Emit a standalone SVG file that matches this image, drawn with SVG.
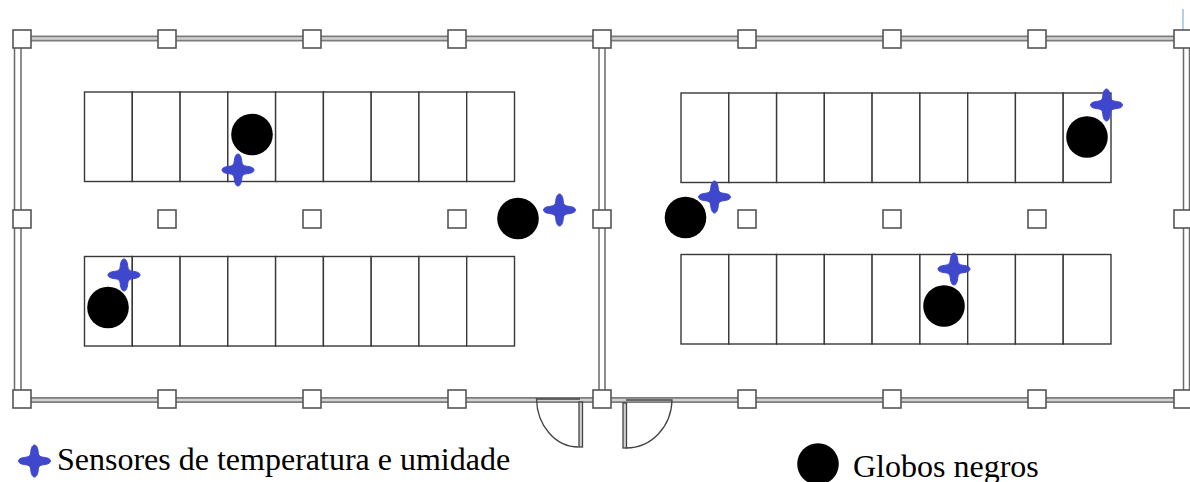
<svg xmlns="http://www.w3.org/2000/svg" width="1190" height="482" viewBox="0 0 1190 482">
<style>
.wo{fill:none;stroke:#7c7c7c;stroke-width:6}
.wi{fill:none;stroke:#d2d2d2;stroke-width:2.4}
.col{fill:#fff;stroke:#555;stroke-width:1.6}
.rack{fill:#fff;stroke:#383838;stroke-width:1.4}
.door{fill:none;stroke:#444;stroke-width:1.3}
.leaf{fill:#d0d0d0;stroke:#444;stroke-width:1.3}
.sensor{fill:#3f48cc;stroke:#3f48cc;stroke-width:1;stroke-linejoin:round}
.globe{fill:#000}
.label{font-family:"Liberation Serif","Times New Roman",serif;fill:#000;font-size:32px}
.vw{fill:#fff;stroke:#6a6a6a;stroke-width:1.5}
</style>
<defs>
<rect id="c" class="col" x="-9" y="-9" width="18" height="18"/>
<rect id="cell" class="rack" x="0" y="0" width="47.8" height="89.5"/>
<path id="s" class="sensor" d="M0,-16C2.500,-16 3.500,-12 3.800,-8.500C4,-5.500 5.500,-4 8.500,-3.800C12,-3.500 16,-2.500 16,0C16,2.500 12,3.500 8.500,3.800C5.500,4 4,5.500 3.800,8.500C3.500,12 2.500,16 0,16C-2.500,16 -3.500,12 -3.800,8.500C-4,5.500 -5.500,4 -8.500,3.800C-12,3.500 -16,2.500 -16,0C-16,-2.500 -12,-3.500 -8.500,-3.800C-5.500,-4 -4,-5.500 -3.800,-8.500C-3.500,-12 -2.500,-16 0,-16Z"/>
<g id="rackrow">
<use href="#cell" x="0"/><use href="#cell" x="47.8"/><use href="#cell" x="95.6"/><use href="#cell" x="143.3"/><use href="#cell" x="191.1"/><use href="#cell" x="238.9"/><use href="#cell" x="286.7"/><use href="#cell" x="334.4"/><use href="#cell" x="382.2"/>
</g>
</defs>
<rect width="1190" height="482" fill="#fff"/>
<g id="connectors">
<path class="wo" d="M22,38.500H1183M22,400H1183"/>
<path class="wi" d="M22,38.500H1183M22,400H1183"/>
<rect class="vw" x="14.500" y="39" width="6.500" height="360"/>
<rect class="vw" x="599" y="39" width="6" height="360"/>
<rect class="vw" x="1183.500" y="39" width="6" height="360"/>
<path d="M1183,9V39" fill="none" stroke="#6aa5d5" stroke-width="1"/>
</g>
<g id="columns">
<use href="#c" x="22" y="39"/><use href="#c" x="167" y="39"/><use href="#c" x="312" y="39"/><use href="#c" x="457" y="39"/><use href="#c" x="602" y="39"/><use href="#c" x="747" y="39"/><use href="#c" x="892" y="39"/><use href="#c" x="1037" y="39"/><use href="#c" x="1183" y="39"/>
<use href="#c" x="22" y="219"/><use href="#c" x="167" y="219"/><use href="#c" x="312" y="219"/><use href="#c" x="457" y="219"/><use href="#c" x="602" y="219"/><use href="#c" x="747" y="219"/><use href="#c" x="892" y="219"/><use href="#c" x="1037" y="219"/><use href="#c" x="1183" y="219"/>
<use href="#c" x="22" y="399"/><use href="#c" x="167" y="399"/><use href="#c" x="312" y="399"/><use href="#c" x="457" y="399"/><use href="#c" x="602" y="399"/><use href="#c" x="747" y="399"/><use href="#c" x="892" y="399"/><use href="#c" x="1037" y="399"/><use href="#c" x="1183" y="399"/>
</g>
<g id="racks">
<use id="rack-top-left" href="#rackrow" x="84.500" y="92"/>
<use id="rack-bottom-left" href="#rackrow" x="84.500" y="256.500"/>
<use id="rack-top-right" href="#rackrow" x="681" y="93"/>
<use id="rack-bottom-right" href="#rackrow" x="681" y="254.500"/>
</g>
<g id="door-left">
<path class="door" d="M580,399H536.500C537,425 555,447 578.500,447"/>
<rect class="leaf" x="579" y="402" width="3.500" height="45"/>
</g>
<g id="door-right">
<path class="door" d="M626,400H672C671.500,426 652,448 626,448"/>
<rect class="leaf" x="623" y="403" width="3.500" height="45"/>
</g>
<g id="globes">
<circle class="globe" cx="252" cy="134.500" r="20.800"/>
<circle class="globe" cx="108" cy="307.500" r="20.800"/>
<circle class="globe" cx="518" cy="218.500" r="20.800"/>
<circle class="globe" cx="685.500" cy="217.500" r="20.800"/>
<circle class="globe" cx="1087" cy="137" r="20.800"/>
<circle class="globe" cx="944" cy="306" r="20.800"/>
</g>
<g id="sensors">
<use href="#s" x="238" y="170"/>
<use href="#s" x="124" y="275"/>
<use href="#s" x="559.500" y="210"/>
<use href="#s" x="714.500" y="197"/>
<use href="#s" x="1106.500" y="105"/>
<use href="#s" x="954" y="269"/>
</g>
<g id="legend-sensor">
<use href="#s" x="34.500" y="461"/>
<text class="label" x="57" y="469.500">Sensores de temperatura e umidade</text>
</g>
<g id="legend-globe">
<circle class="globe" cx="818" cy="464" r="20.800"/>
<text class="label" x="853" y="476.500">Globos negros</text>
</g>
</svg>
